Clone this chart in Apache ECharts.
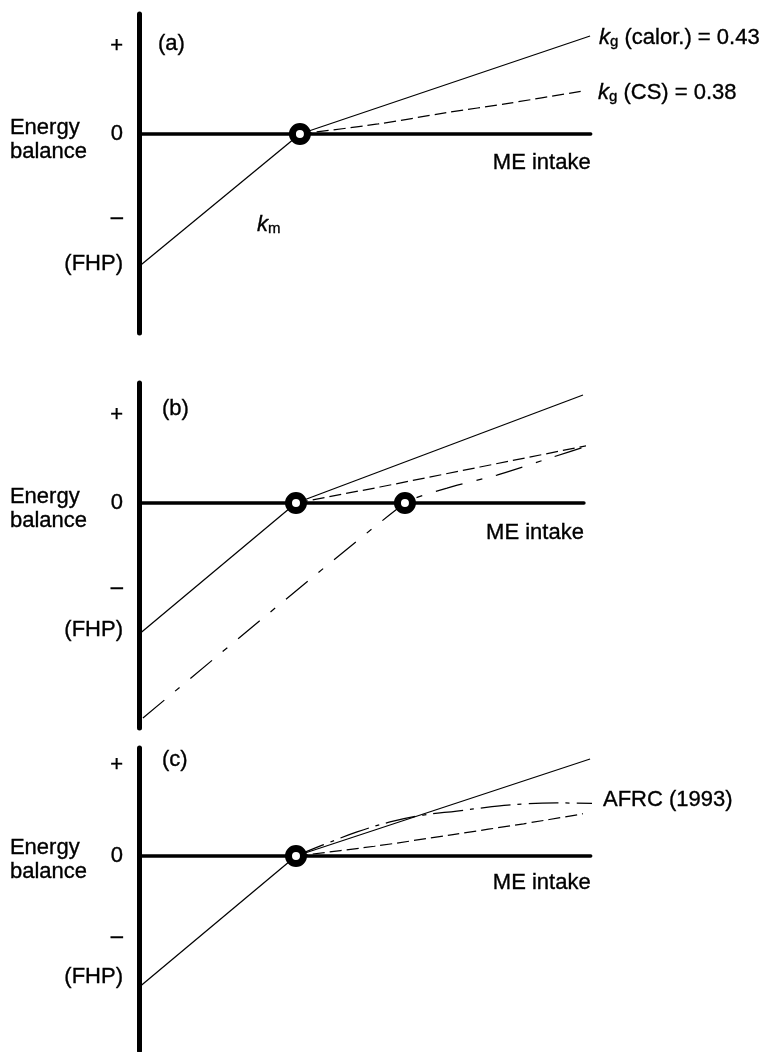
<!DOCTYPE html>
<html>
<head>
<meta charset="utf-8">
<script src="https://cdn.jsdelivr.net/npm/echarts@6/dist/echarts.min.js"></script>
<style>
  html, body { margin: 0; padding: 0; background: #fff; }
  #chart { width: 766px; height: 1052px; }
</style>
</head>
<body>
<div id="chart"></div>
<script>
// ---- scale shared by the three panels (pixels per data unit) ----
const PX_X = 157, PX_Y = 130, LEFT = 139;

// ---- panel layout: zero-line position and axis extents ----
const panelZero = [134, 503, 856];
const yMax = [0.923, 0.923, 0.831];
const yMin = [-1.531, -1.731, -1.5];
const xMax = [2.877, 2.834, 2.877];
const nameShift = [18, 19, 16];

// ---- y-axis tick positions (+, 0, –, FHP) ----
const tickText = ['+', '0', '–', '(FHP)'];
const tickPlus = [0.677, 0.677, 0.70];
const tickMinus = [-0.646, -0.654, -0.623];
const tickFHP = [-1.0, -0.98, -0.93];

// ---- panel (a) ----
const aKm = [[0, -1.02], [1.025, 0]];
const aCalor = [[1.025, 0], [2.873, 0.754]];
const aCS = [[1.025, 0], [1.522, 0.077], [1.949, 0.162], [2.363, 0.238], [2.828, 0.331]];
const aMaint = [[1.025, 0]];

// ---- panel (b) ----
const bKm = [[0, -1.01], [1, 0]];
const bUpper = [[1, 0], [2.828, 0.831]];
const bDashed = [[1, 0], [1.535, 0.123], [2.172, 0.277], [2.873, 0.446]];
const bShifted = [[0.025, -1.654], [1.694, 0], [1.962, 0.115], [2.28, 0.215], [2.618, 0.346], [2.873, 0.446]];
const bMaint = [[1, 0], [1.694, 0]];

// ---- panel (c) ----
const cKm = [[0, -1.01], [1, 0]];
const cUpper = [[1, 0], [2.873, 0.746]];
const cDashed = [[1, 0], [1.5, 0.075], [2.0, 0.165], [2.45, 0.248], [2.828, 0.325]];
const cAFRC = [[1, 0], [1.172, 0.085], [1.389, 0.185], [1.599, 0.262], [1.809, 0.315], [2.025, 0.346],
               [2.236, 0.377], [2.446, 0.4], [2.662, 0.408], [2.92, 0.405]];
const cMaint = [[1, 0]];

// ---- annotation text ----
const panelTags = ['(a)', '(b)', '(c)'];
const tagPos = [[0.121, 0.692], [0.146, 0.723], [0.146, 0.738]];
const yTitle = 'Energy\nbalance';
const yTitlePos = [[-0.822, -0.046], [-0.822, -0.042], [-0.822, -0.031]];
const xTitle = 'ME intake';
const kmText = '{k|k}{s|m}';
const kmPos = [0.752, -0.70];
const calorText = '{k|k}{s|g} (calor.) = 0.43';
const csText = '{k|k}{s|g} (CS) = 0.38';
const afrcText = 'AFRC (1993)';

const FONT = 'Liberation Sans, Arial, Helvetica, sans-serif';
const FS = 22;
const INK = '#000';
const THIN = { color: '#000', width: 1.25 };
// a hairline outline gives the lettering a little more weight
const HEAVY = { textBorderColor: '#000', textBorderWidth: 0.35 };

const rich = {
  k: Object.assign({ fontFamily: FONT, fontSize: FS, fontStyle: 'italic', color: INK, lineHeight: 26 }, HEAVY),
  s: Object.assign({ fontFamily: FONT, fontSize: 15, color: INK, lineHeight: 18, padding: [8, 0, 0, 0] }, HEAVY)
};

const grids = [], xAxes = [], yAxes = [], series = [];

for (let i = 0; i < 3; i++) {
  grids.push({
    left: LEFT,
    top: panelZero[i] - yMax[i] * PX_Y,
    width: xMax[i] * PX_X,
    height: (yMax[i] - yMin[i]) * PX_Y,
    outerBoundsMode: 'none'
  });
  xAxes.push({
    type: 'value', gridIndex: i, min: 0, max: xMax[i],
    axisLine: { show: true, onZero: true, lineStyle: { color: INK, width: 3.5 } },
    axisTick: { show: false }, axisLabel: { show: false }, splitLine: { show: false },
    name: xTitle, nameLocation: 'end', nameGap: 0,
    nameTextStyle: Object.assign({ fontFamily: FONT, fontSize: FS, color: INK, align: 'right',
                     verticalAlign: 'top', padding: [nameShift[i], 0, 0, 0] }, HEAVY)
  });
  const ticks = [tickPlus[i], 0, tickMinus[i], tickFHP[i]];
  yAxes.push({
    type: 'value', gridIndex: i, min: yMin[i], max: yMax[i],
    axisLine: { show: true, lineStyle: { color: INK, width: 5 } },
    axisTick: { show: false }, splitLine: { show: false },
    axisLabel: Object.assign({
      show: true, customValues: ticks, margin: 16,
      fontFamily: FONT, fontSize: FS, color: INK,
      formatter: v => {
        const k = ticks.findIndex(t => Math.abs(t - v) < 1e-6);
        return k >= 0 ? tickText[k] : '';
      }
    }, HEAVY)
  });
  // panel tag and vertical-axis title
  series.push({
    type: 'scatter', xAxisIndex: i, yAxisIndex: i, clip: false, symbolSize: 0, silent: true,
    itemStyle: { opacity: 1 },
    data: [
      { value: tagPos[i], label: { formatter: panelTags[i] } },
      { value: yTitlePos[i], label: { formatter: yTitle, lineHeight: 24 } }
    ],
    label: Object.assign({ show: true, position: 'right', distance: 0, align: 'left',
             fontFamily: FONT, fontSize: FS, color: INK }, HEAVY)
  });
}

function line(idx, data, extra) {
  return Object.assign({
    type: 'line', xAxisIndex: idx, yAxisIndex: idx, data: data,
    showSymbol: false, symbol: 'none', silent: true,
    lineStyle: Object.assign({}, THIN)
  }, extra || {});
}
function endLabel(text, distance, offset) {
  return Object.assign({ show: true, formatter: text, distance: distance, offset: offset,
           fontFamily: FONT, fontSize: FS, color: INK, lineHeight: 26, rich: rich }, HEAVY);
}
function maint(idx, data) {
  return {
    type: 'scatter', xAxisIndex: idx, yAxisIndex: idx, data: data, z: 10, silent: true,
    symbol: 'circle', symbolSize: 15,
    itemStyle: { color: '#fff', borderColor: INK, borderWidth: 7, opacity: 1 }
  };
}

// panel (a)
series.push(line(0, aKm));
series.push(line(0, aCalor, { endLabel: endLabel(calorText, 9, [0, 2]) }));
series.push(line(0, aCS, { smooth: 0.3, lineStyle: Object.assign({}, THIN, { type: [12, 5] }),
                           endLabel: endLabel(csText, 15, [0, 2]) }));
series.push(maint(0, aMaint));
series.push({
  type: 'scatter', xAxisIndex: 0, yAxisIndex: 0, symbolSize: 0, silent: true,
  itemStyle: { opacity: 1 },
  data: [{ value: kmPos }],
  label: Object.assign({ show: true, position: 'right', distance: 0, formatter: kmText,
           fontFamily: FONT, fontSize: FS, color: INK, lineHeight: 26, rich: rich }, HEAVY)
});

// panel (b)
series.push(line(1, bKm));
series.push(line(1, bUpper));
series.push(line(1, bDashed, { lineStyle: Object.assign({}, THIN, { type: [12, 5] }) }));
series.push(line(1, bShifted, { smooth: 0.2, lineStyle: Object.assign({}, THIN, { type: [28, 14, 6, 14] }) }));
series.push(maint(1, bMaint));

// panel (c)
series.push(line(2, cKm));
series.push(line(2, cUpper));
series.push(line(2, cDashed, { smooth: 0.3, lineStyle: Object.assign({}, THIN, { type: [12, 5] }) }));
series.push(line(2, cAFRC, { smooth: 0.4, lineStyle: Object.assign({}, THIN, { type: [30, 7, 4, 7] }),
                             endLabel: endLabel(afrcText, 11, [0, -3]) }));
series.push(maint(2, cMaint));

const chart = echarts.init(document.getElementById('chart'), null, { renderer: 'canvas' });
chart.setOption({
  animation: false,
  backgroundColor: '#fff',
  textStyle: { fontFamily: FONT },
  grid: grids,
  xAxis: xAxes,
  yAxis: yAxes,
  series: series
});
</script>
</body>
</html>
